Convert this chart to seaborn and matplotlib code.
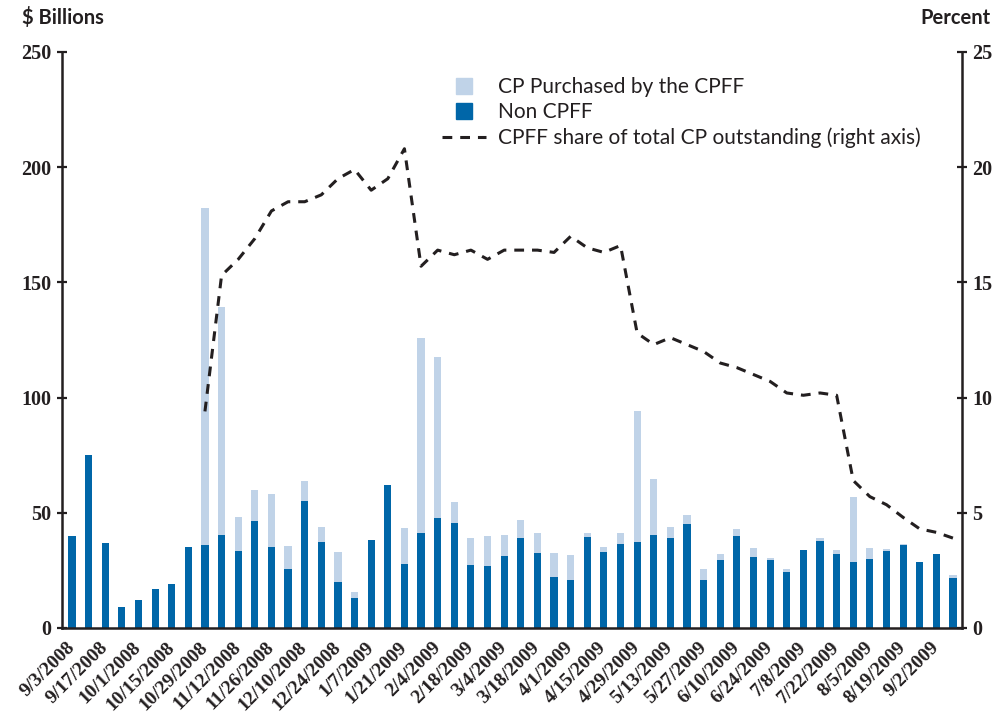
import numpy as np
import pandas as pd
import matplotlib.pyplot as plt
import seaborn as sns
from matplotlib.lines import Line2D

# --- data ---------------------------------------------------------------------
# weekly CP outstanding ($ billions), 9/3/2008 .. 9/9/2009
non_cpff = [40, 75, 37, 9.2, 12.3, 17.1, 19.2, 35, 36.2, 40.5,
            33.5, 46.6, 35, 25.4, 55.3, 37.5, 20.1, 13.2, 38.3, 62.2,
            27.9, 41.4, 47.9, 45.7, 27.5, 27.1, 31.4, 39.2, 32.7, 22.3,
            21, 39.6, 33.1, 36.6, 37.5, 40.5, 39.2, 45.3, 21, 29.6,
            40.1, 31, 29.6, 24.4, 34, 37.9, 32.2, 28.7, 30.1, 33.5,
            36.2, 28.7, 32.2, 21.8]
cpff_purchased = [0, 0, 0, 0, 0, 0, 0, 0, 146, 99,
                  14.5, 13.4, 23.3, 10, 8.7, 6.5, 12.9, 2.6, 0, 0,
                  15.7, 84.6, 69.8, 9.1, 11.7, 13, 9.1, 7.8, 8.7, 10.4,
                  10.8, 1.8, 2.2, 4.8, 56.5, 24.3, 4.8, 3.9, 4.7, 2.6,
                  3.0, 3.5, 0.9, 1.3, 0, 1.3, 1.8, 28.3, 4.8, 0.9,
                  0.4, 0, 0, 1.2]

# CPFF share of total CP outstanding (percent), from week 8 (10/29/2008)
share_start = 8
cpff_share = [9.4, 15.3, 16.0, 16.9, 18.1, 18.5, 18.5, 18.8, 19.5, 19.9,
              19.0, 19.5, 20.8, 15.7, 16.4, 16.2, 16.4, 16.0, 16.4, 16.4,
              16.4, 16.3, 17.0, 16.5, 16.3, 16.6, 12.8, 12.3, 12.6, 12.3,
              12.0, 11.5, 11.3, 11.0, 10.7, 10.2, 10.1, 10.2, 10.1, 6.4,
              5.7, 5.35, 4.8, 4.3, 4.15, 3.9]

tick_labels = ["9/3/2008", "9/17/2008", "10/1/2008", "10/15/2008", "10/29/2008",
               "11/12/2008", "11/26/2008", "12/10/2008", "12/24/2008", "1/7/2009",
               "1/21/2009", "2/4/2009", "2/18/2009", "3/4/2009", "3/18/2009",
               "4/1/2009", "4/15/2009", "4/29/2009", "5/13/2009", "5/27/2009",
               "6/10/2009", "6/24/2009", "7/8/2009", "7/22/2009", "8/5/2009",
               "8/19/2009", "9/2/2009"]

# --- style --------------------------------------------------------------------
LIGHT = "#c0d3e8"
DARK = "#0066a8"
INK = "#231f20"
DASH = (0, (3.2, 2.6))

sns.set_style("white")
plt.rcParams["font.family"] = ["Liberation Serif", "DejaVu Serif"]
SANS = ["Lato", "DejaVu Sans"]

df = pd.DataFrame({"week": np.arange(len(non_cpff)),
                   "non_cpff": non_cpff,
                   "cpff": cpff_purchased})
df["total"] = df["non_cpff"] + df["cpff"]

share_df = pd.DataFrame({"week": np.arange(share_start, share_start + len(cpff_share)),
                         "share": cpff_share})

fig = plt.figure(figsize=(9.95, 7.19), dpi=100)
ax = fig.add_axes([0.0623, 0.1266, 0.9045, 0.8011])

sns.barplot(data=df, x="week", y="total", native_scale=True, color=LIGHT,
            saturation=1, width=0.43, linewidth=0, ax=ax)
sns.barplot(data=df, x="week", y="non_cpff", native_scale=True, color=DARK,
            saturation=1, width=0.43, linewidth=0, ax=ax)

ax2 = ax.twinx()
sns.lineplot(data=share_df, x="week", y="share", color=INK, lw=2.2,
             linestyle=DASH, ax=ax2)

n = len(non_cpff)
ax.set_xlim(-0.6, n - 1 + 0.54)
ax.set_ylim(0, 250)
ax2.set_ylim(0, 25)

ax.set_yticks(np.arange(0, 251, 50))
ax2.set_yticks(np.arange(0, 26, 5))
ax.set_xticks(np.arange(0, n, 2))
ax.set_xticklabels(tick_labels, rotation=45, ha="right", va="center",
                   rotation_mode="anchor", fontweight="bold")
ax.set_xticks(np.arange(0.5, n, 1), minor=True)

ax.set_xlabel("")
ax.set_ylabel("")
ax2.set_ylabel("")

ax.tick_params(axis="x", which="major", length=0, pad=12, labelsize=14,
               labelcolor=INK)
ax.tick_params(axis="x", which="minor", direction="out", length=5, width=1.6,
               color=INK)
for a in (ax, ax2):
    a.tick_params(axis="y", direction="inout", length=7, width=1.6, color=INK,
                  labelsize=14.5, labelcolor=INK, pad=4)
    for t in a.get_yticklabels():
        t.set_fontweight("bold")

for a in (ax, ax2):
    a.spines["top"].set_visible(False)
    for s in ("left", "right", "bottom"):
        a.spines[s].set_linewidth(1.8)
        a.spines[s].set_color(INK)
ax.spines["right"].set_visible(False)
ax2.spines["left"].set_visible(False)
ax2.spines["bottom"].set_visible(False)

fig.text(0.022, 0.975, "$ Billions", fontsize=14.5, fontweight="bold",
         color=INK, family=SANS, va="center")
fig.text(0.995, 0.975, "Percent", fontsize=14.5, fontweight="bold",
         color=INK, family=SANS, va="center", ha="right")

handles = [Line2D([0], [0], marker="s", markersize=12, color=LIGHT, linestyle="none"),
           Line2D([0], [0], marker="s", markersize=12, color=DARK, linestyle="none"),
           Line2D([0], [0], color=INK, lw=2.2, linestyle=DASH)]
labels = ["CP Purchased by the CPFF", "Non CPFF",
          "CPFF share of total CP outstanding (right axis)"]
fig.legend(handles, labels, loc="upper left", bbox_to_anchor=(0.444, 0.893),
           frameon=False, prop={"family": SANS, "size": 15},
           labelcolor=INK, handlelength=2.1, handletextpad=0.6,
           labelspacing=0.25, borderaxespad=0, borderpad=0)

fig.savefig("out.png", dpi=100)
